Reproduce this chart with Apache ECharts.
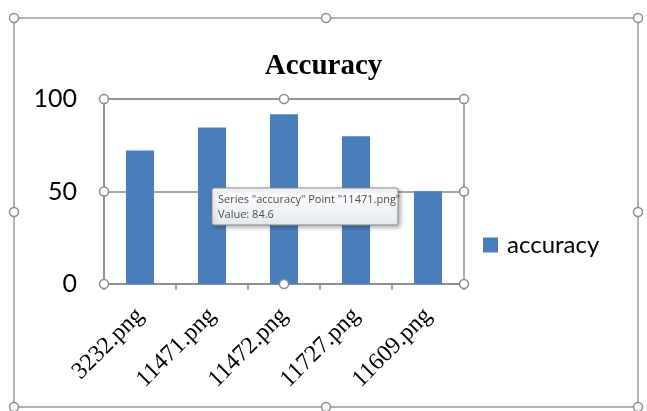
<!DOCTYPE html>
<html>
<head>
<meta charset="utf-8">
<script src="https://cdn.jsdelivr.net/npm/echarts@6/dist/echarts.min.js"></script>
<style>html,body{margin:0;padding:0;background:#fff;}#c{width:647px;height:411px;}</style>
</head>
<body>
<div id="c"></div>
<script>
var categories = ['3232.png', '11471.png', '11472.png', '11727.png', '11609.png'];
var accuracy = [72.1, 84.6, 91.7, 79.8, 50.2];
var yTicks = [0, 50, 100];
var seriesName = 'accuracy';
var titleText = 'Accuracy';
var tipLines = ['Series "accuracy" Point "11471.png"', 'Value: 84.6'];

var G = {left: 104, top: 99, right: 183, bottom: 127};
var W = 647, H = 411;
var gx0 = G.left, gx1 = W - G.right, gy0 = G.top, gy1 = H - G.bottom;
var gray = '#8c8c8c';

function handle(x, y) {
  return {type: 'circle', shape: {cx: x, cy: y, r: 4.5}, style: {fill: '#fff', stroke: '#8c8c8c', lineWidth: 1.5}, z: 100};
}
var graphics = [
  {type: 'rect', shape: {x: 14, y: 18, width: 624, height: 389}, style: {fill: 'none', stroke: '#9a9a9a', lineWidth: 1.5}, z: 90},
  handle(14, 18), handle(326, 18), handle(638, 18),
  handle(14, 212), handle(638, 212),
  handle(14, 407), handle(326, 407), handle(638, 407),
  handle(gx0, gy0), handle((gx0 + gx1) / 2, gy0), handle(gx1, gy0),
  handle(gx0, (gy0 + gy1) / 2), handle(gx1, (gy0 + gy1) / 2),
  handle(gx0, gy1), handle((gx0 + gx1) / 2, gy1), handle(gx1, gy1),
  {type: 'rect', shape: {x: 212, y: 188, width: 186, height: 37, r: 2},
   style: {fill: {type: 'linear', x: 0, y: 0, x2: 0, y2: 1, colorStops: [{offset: 0, color: '#ffffff'}, {offset: 1, color: '#e6eaf0'}]},
           stroke: '#8a8a8a', lineWidth: 1, shadowBlur: 4, shadowOffsetX: 2, shadowOffsetY: 2, shadowColor: 'rgba(0,0,0,0.3)'}, z: 110},
  {type: 'text', x: 218, y: 192, style: {text: tipLines.join('\n'), fill: '#4c4c4c', font: '11px "Open Sans", sans-serif', lineHeight: 15}, z: 111}
];

var chart = echarts.init(document.getElementById('c'), null, {renderer: 'canvas'});
chart.setOption({
  animation: false,
  backgroundColor: '#fff',
  title: {text: titleText, left: 'center', top: 47,
    textStyle: {fontFamily: '"Liberation Serif", serif', fontWeight: 'bold', fontSize: 29, color: '#000'}},
  legend: {show: true, orient: 'vertical', left: 478, top: 228, itemWidth: 15, itemHeight: 15, itemGap: 6,
    icon: 'rect', textStyle: {fontFamily: 'Lato, sans-serif', fontSize: 24, color: '#000', padding: [0, 0, 0, 4]}, data: [seriesName]},
  grid: {left: G.left, top: G.top, right: G.right, bottom: G.bottom, show: true, borderColor: gray, borderWidth: 1.5, backgroundColor: 'transparent'},
  xAxis: {type: 'category', data: categories,
    axisLine: {show: true, lineStyle: {color: gray, width: 1.5}},
    axisTick: {show: true, length: 6, lineStyle: {color: gray, width: 1.5}},
    axisLabel: {rotate: 45, margin: 28, fontFamily: '"Liberation Serif", serif', fontSize: 24, color: '#000'}},
  yAxis: {type: 'value', min: yTicks[0], max: yTicks[yTicks.length - 1], interval: yTicks[1] - yTicks[0],
    axisLine: {show: true, lineStyle: {color: gray, width: 1.5}},
    axisTick: {show: true, length: 5, lineStyle: {color: gray, width: 1.5}},
    splitLine: {show: true, lineStyle: {color: gray, width: 1.5}},
    axisLabel: {margin: 27, fontFamily: 'Lato, sans-serif', fontSize: 25, color: '#000'}},
  series: [{name: seriesName, type: 'bar', data: accuracy, barCategoryGap: '61%', itemStyle: {color: '#4a7ebb'}}],
  graphic: graphics
});
</script>
</body>
</html>
